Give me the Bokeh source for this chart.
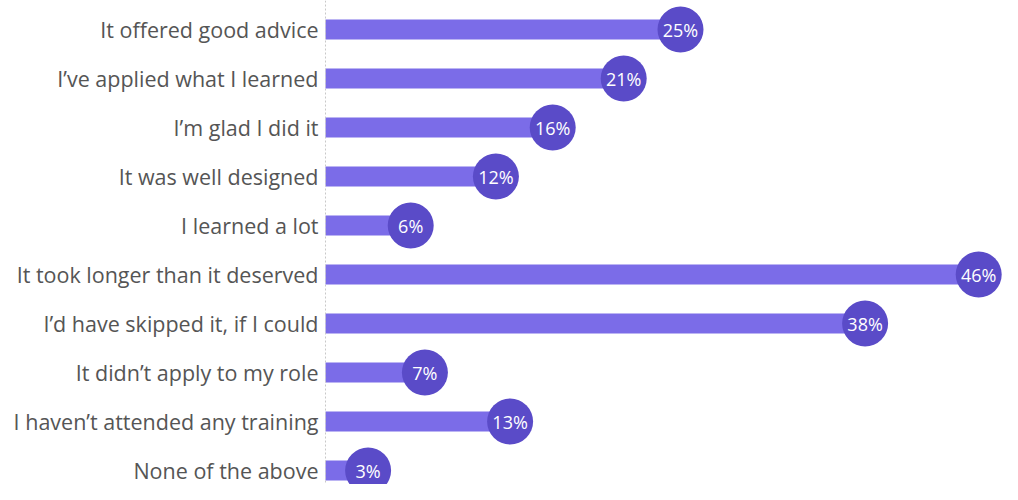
from bokeh.plotting import figure
from bokeh.models import Range1d, ColumnDataSource, Span
from bokeh.core.properties import value
from bokeh.embed import file_html
from bokeh.resources import INLINE

categories = [
    "It offered good advice",
    "I\u2019ve applied what I learned",
    "I\u2019m glad I did it",
    "It was well designed",
    "I learned a lot",
    "It took longer than it deserved",
    "I\u2019d have skipped it, if I could",
    "It didn\u2019t apply to my role",
    "I haven\u2019t attended any training",
    "None of the above",
]
values = [25, 21, 16, 12, 6, 46, 38, 7, 13, 3]

W, H = 1002, 484
base_px = 325
ppu = 14.2
x0 = -base_px / ppu
x1 = (W - base_px) / ppu
row_px = 49
top_px = 29
y_top = -top_px / row_px
y_bot = (len(categories) - 1) + (H - top_px - row_px * (len(categories) - 1)) / row_px

src = ColumnDataSource(dict(
    y=list(range(len(categories))),
    v=values,
    cat=categories,
    lab=[f"{v}%" for v in values],
    zero=[0] * len(values),
))

p = figure(width=W, height=H, output_backend="svg", toolbar_location=None,
           x_range=Range1d(x0, x1), y_range=Range1d(y_bot, y_top),
           min_border=0, outline_line_color=None)
p.axis.visible = False
p.grid.visible = False
p.background_fill_color = "white"
p.border_fill_color = "white"

p.add_layout(Span(location=0, dimension="height", line_color="#c8c8c8",
                  line_dash="2 2", line_width=1))

p.hbar(y="y", left="zero", right="v", height=20 / row_px, source=src,
       fill_color="#7B6CE8", line_color=None)
p.scatter(x="v", y="y", size=46, source=src, fill_color="#5A4BC8", line_color=None)
p.text(x="v", y="y", text="lab", source=src, text_align="center", text_baseline="middle",
       text_color="white", text_font=value("Open Sans"), text_font_size="18px")
p.text(x="zero", y="y", text="cat", source=src, x_offset=-7, text_align="right",
       text_baseline="middle", text_color="#555555", text_font=value("Open Sans"),
       text_font_size="21.5px")

open("out.html", "w").write(file_html(p, INLINE))
